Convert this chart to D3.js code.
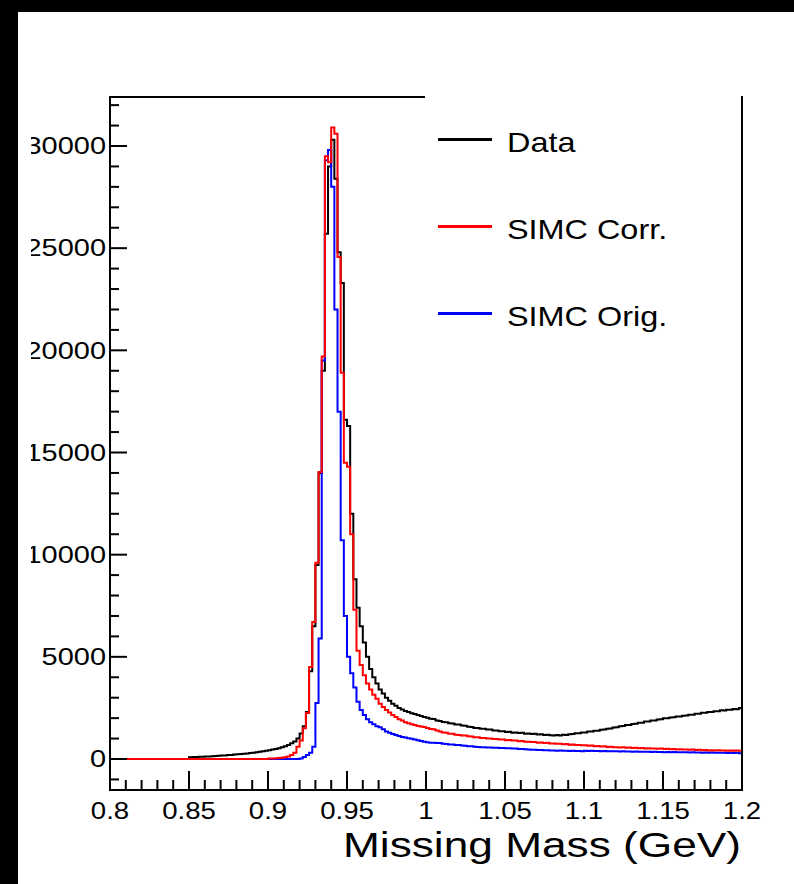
<!DOCTYPE html>
<html><head><meta charset="utf-8">
<script src="https://cdn.jsdelivr.net/npm/d3@7/dist/d3.min.js"></script>
<style>
html,body{margin:0;padding:0;background:#fff;}
svg text{font-family:"Liberation Sans",Arial,Helvetica,sans-serif;fill:#000;}
</style></head>
<body>
<svg id="chart" width="794" height="884"></svg>
<script>
// ---------- data ----------
const xMin = 0.8, xMax = 1.2, binWidth = 0.002;  // 200 bins
const xTickValues = [0.8, 0.85, 0.9, 0.95, 1, 1.05, 1.1, 1.15, 1.2];
const xTickLabels = ["0.8","0.85","0.9","0.95","1","1.05","1.1","1.15","1.2"];
const yTickValues = [0, 5000, 10000, 15000, 20000, 25000, 30000];
const yTickLabels = ["0","5000","10000","15000","20000","25000","30000"];
const seriesNames = ["Data", "SIMC Corr.", "SIMC Orig."];
const seriesColors = ["#000000", "#ff0000", "#0000ff"];

const dataCounts = [
  0,0,0,0,0,0,0,0,0,0,
  0,0,0,0,0,0,0,0,0,0,
  0,0,0,0,0,90,100,95,110,115,
  120,125,140,145,160,170,175,190,200,215,
  230,240,255,270,290,310,330,355,380,400,
  430,460,490,530,570,620,690,770,860,1000,
  1250,1600,2300,4300,6500,9500,14000,19000,25700,29000,
  30300,28400,24800,23300,16600,16300,12000,8800,7400,6500,
  5700,5000,4400,4000,3700,3400,3200,3000,2850,2700,
  2600,2500,2420,2350,2300,2240,2200,2150,2100,2060,
  2020,1970,1960,1890,1860,1810,1800,1750,1740,1690,
  1690,1640,1630,1580,1570,1520,1520,1480,1480,1440,
  1440,1400,1400,1360,1360,1320,1330,1290,1300,1270,
  1280,1240,1250,1220,1230,1200,1210,1180,1190,1160,
  1150,1180,1150,1190,1180,1210,1220,1260,1260,1300,
  1300,1340,1340,1380,1380,1430,1440,1480,1490,1540,
  1550,1600,1610,1660,1670,1710,1720,1770,1780,1830,
  1840,1880,1890,1930,1940,1990,1990,2030,2040,2080,
  2080,2120,2130,2170,2170,2210,2210,2260,2260,2300,
  2300,2340,2340,2380,2370,2410,2410,2450,2440,2500
];

const simcCorr = [
  0,0,0,0,0,0,0,0,0,0,
  0,0,0,0,0,0,0,0,0,0,
  0,0,0,0,0,0,0,0,0,0,
  0,0,0,0,0,0,0,0,0,0,
  0,0,0,0,0,0,0,0,0,0,
  20,30,40,50,60,80,120,200,300,600,
  900,1500,2250,4500,6700,9600,14050,19700,29500,29200,
  30900,30600,24570,18900,14500,14300,11000,7300,5300,4600,
  4100,3700,3400,3150,2950,2700,2550,2400,2280,2150,
  2050,1950,1880,1800,1750,1700,1660,1620,1590,1560,
  1520,1470,1450,1390,1350,1300,1290,1240,1240,1190,
  1180,1150,1150,1110,1100,1070,1070,1030,1030,1000,
  1000,980,980,950,950,920,930,900,900,870,
  880,850,850,830,830,800,810,780,790,760,
  760,750,750,720,730,700,710,690,690,670,
  670,650,660,630,640,610,620,590,600,580,
  580,560,570,550,560,540,550,530,540,520,
  530,510,520,500,510,490,500,480,490,470,
  480,460,470,450,460,440,450,430,440,420,
  430,420,430,410,420,400,420,400,410,400
];

const simcOrig = [
  0,0,0,0,0,0,0,0,0,0,
  0,0,0,0,0,0,0,0,0,0,
  0,0,0,0,0,0,0,0,0,0,
  0,0,0,0,0,0,0,0,0,0,
  0,0,0,0,0,0,0,0,0,0,
  0,0,0,0,0,0,0,0,0,0,
  30,100,200,300,600,2740,5900,19500,29300,29800,
  28000,22000,17000,10700,7000,5000,4200,3500,2800,2400,
  2150,1950,1800,1700,1600,1550,1450,1350,1280,1220,
  1170,1120,1080,1050,1020,990,960,920,880,840,
  820,800,800,780,780,750,740,710,710,690,
  680,660,650,630,620,600,590,580,570,560,
  560,545,550,535,540,530,530,515,510,495,
  490,475,470,455,450,440,440,425,425,415,
  415,405,410,400,405,395,400,390,395,385,
  400,395,400,390,395,385,390,380,385,375,
  380,370,375,365,370,360,365,355,360,350,
  355,345,350,340,345,335,345,335,340,330,
  335,325,330,320,325,315,320,310,315,305,
  315,305,310,300,305,295,305,290,300,285
];

// ---------- layout ----------
const svg = d3.select("#chart");
const X0 = 110, X1 = 742, YTOP = 97, YBOT = 790;
const x = d3.scaleLinear().domain([xMin, xMax]).range([X0, X1]);
const y = d3.scaleLinear().domain([0, 30000]).range([759, 146]);
const SX = 1.2;   // horizontal stretch of the glyphs
const SXY = 1.26; // stretch for y tick labels

svg.append("defs").append("clipPath").attr("id", "padclip")
  .append("rect").attr("x", 31).attr("y", 0).attr("width", 763).attr("height", 884);

function stext(parent, px, py, str, size, anchor, sx) {
  return parent.append("text")
    .attr("transform", `translate(${px},${py}) scale(${sx},1)`)
    .attr("text-anchor", anchor)
    .style("font-size", size + "px")
    .text(str);
}

// histograms
const order = [0, 2, 1];
const allSeries = [dataCounts, simcCorr, simcOrig];
const line = d3.line().x(d => x(d[0])).y(d => y(d[1])).curve(d3.curveStepAfter);
const gH = svg.append("g");
order.forEach(i => {
  const vals = allSeries[i];
  const pts = vals.map((v, k) => [xMin + k * binWidth, v]);
  pts.push([xMax, vals[vals.length - 1]]);
  gH.append("path").attr("d", line(pts))
    .attr("fill", "none").attr("stroke", seriesColors[i])
    .attr("stroke-width", 2).attr("stroke-linejoin", "miter");
});

// frame
const gF = svg.append("g").attr("stroke", "#000").attr("stroke-width", 2).attr("fill", "none");
gF.append("line").attr("x1", X0).attr("x2", X0).attr("y1", YTOP - 1).attr("y2", YBOT + 1);
gF.append("line").attr("x1", X0 - 1).attr("x2", X1 + 1).attr("y1", YBOT).attr("y2", YBOT);
gF.append("line").attr("x1", X1).attr("x2", X1).attr("y1", 96).attr("y2", YBOT + 1);
gF.append("line").attr("x1", X0 - 1).attr("x2", 425).attr("y1", YTOP).attr("y2", YTOP);

// y ticks (inward)
const yMinor = d3.range(-1000, 32001, 1000);
const gYT = svg.append("g").attr("stroke", "#000").attr("stroke-width", 2);
yMinor.forEach(v => {
  const major = v % 5000 === 0;
  gYT.append("line").attr("x1", X0).attr("x2", X0 + (major ? 17 : 9))
    .attr("y1", y(v)).attr("y2", y(v));
});
const gYL = svg.append("g").attr("clip-path", "url(#padclip)");
yTickValues.forEach((v, i) => {
  stext(gYL, 106, y(v) + 8.3, yTickLabels[i], 23, "end", SXY);
});

// x ticks (inward)
const gXT = svg.append("g").attr("stroke", "#000").attr("stroke-width", 2);
const xMinorN = d3.range(0, 41);
xMinorN.forEach(k => {
  const v = xMin + k * 0.01;
  const major = k % 5 === 0;
  gXT.append("line").attr("x1", x(v)).attr("x2", x(v))
    .attr("y1", YBOT).attr("y2", YBOT - (major ? 19 : 10));
});
const gXL = svg.append("g");
xTickValues.forEach((v, i) => {
  stext(gXL, x(v), 819, xTickLabels[i], 23, "middle", SX);
});

// axis title
svg.append("text").attr("x", 741).attr("y", 857).attr("text-anchor", "end")
  .style("font-size", "35px")
  .attr("textLength", 398).attr("lengthAdjust", "spacingAndGlyphs")
  .text("Missing Mass (GeV)");

// legend
const legY = [139.5, 226.5, 313.5];
const gL = svg.append("g");
seriesNames.forEach((n, i) => {
  gL.append("line").attr("x1", 438).attr("x2", 492).attr("y1", legY[i]).attr("y2", legY[i])
    .attr("stroke", seriesColors[i]).attr("stroke-width", 3);
  stext(gL, 507, legY[i] + 12.3, n, 27, "start", SX);
});

// outer black border (left and top)
svg.append("rect").attr("x", 0).attr("y", 0).attr("width", 18).attr("height", 884).attr("fill", "#000");
svg.append("rect").attr("x", 0).attr("y", 0).attr("width", 794).attr("height", 12).attr("fill", "#000");
</script>
</body></html>
